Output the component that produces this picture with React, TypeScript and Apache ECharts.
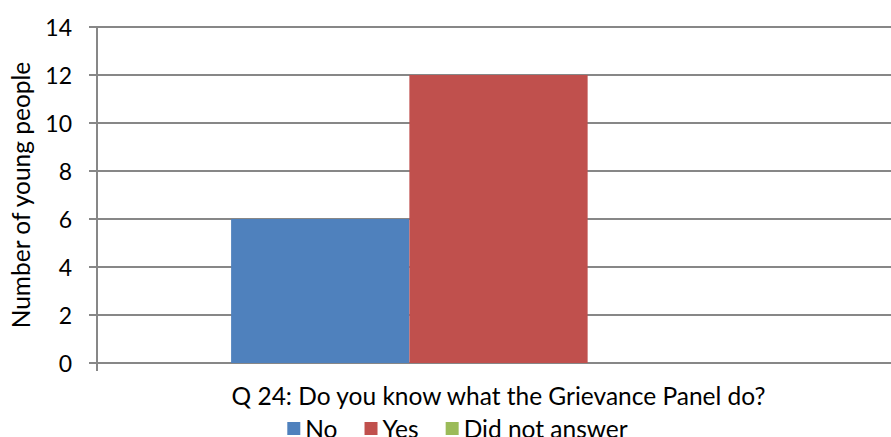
import React, { useEffect, useRef } from "react";
import * as echarts from "echarts";

// Survey question and answer counts
const categories: string[] = ["Q 24: Do you know what the Grievance Panel do?"];
const seriesNames: string[] = ["No", "Yes", "Did not answer"];
const noValues: number[] = [6];
const yesValues: number[] = [12];
const notAnsweredValues: number[] = [0];
const seriesColors: string[] = ["#4F81BD", "#C0504D", "#9BBB59"];
const yTicks = { min: 0, max: 14, interval: 2 };

const FONT = "Lato, 'Open Sans', sans-serif";
const FONT_SIZE = 24.5;
const AXIS_GREY = "#878787";

export default function App() {
  const ref = useRef<HTMLDivElement>(null);

  useEffect(() => {
    if (!ref.current) return;
    const chart = echarts.init(ref.current, undefined, { renderer: "svg" });
    const values = [noValues, yesValues, notAnsweredValues];

    chart.setOption({
      animation: false,
      backgroundColor: "#ffffff",
      textStyle: { fontFamily: FONT },
      grid: { left: 96, right: 15, top: 27, bottom: 74, containLabel: false },
      legend: {
        data: seriesNames,
        left: "center",
        top: 416,
        padding: 0,
        itemGap: 27,
        itemWidth: 13,
        itemHeight: 13,
        icon: "rect",
        textStyle: { fontFamily: FONT, fontSize: FONT_SIZE, color: "#000" },
      },
      xAxis: {
        type: "category",
        data: categories,
        boundaryGap: true,
        axisLine: { show: true, lineStyle: { color: AXIS_GREY, width: 2 } },
        axisTick: { show: true, length: 8, lineStyle: { color: AXIS_GREY, width: 2 } },
        axisLabel: { margin: 20, fontFamily: FONT, fontSize: FONT_SIZE, color: "#000" },
        splitLine: { show: false },
      },
      yAxis: {
        type: "value",
        min: yTicks.min,
        max: yTicks.max,
        interval: yTicks.interval,
        name: "Number of young people",
        nameLocation: "middle",
        nameRotate: 90,
        nameGap: 64,
        nameTextStyle: { fontFamily: FONT, fontSize: FONT_SIZE, color: "#000" },
        axisLine: { show: true, lineStyle: { color: AXIS_GREY, width: 2 } },
        axisTick: { show: true, length: 8, lineStyle: { color: AXIS_GREY, width: 2 } },
        axisLabel: { margin: 25, fontFamily: FONT, fontSize: 23, color: "#000" },
        splitLine: { show: true, lineStyle: { color: AXIS_GREY, width: 2 } },
      },
      series: seriesNames.map((name, i) => ({
        name,
        type: "bar",
        data: values[i],
        barGap: "0%",
        barCategoryGap: "33.4%",
        itemStyle: { color: seriesColors[i] },
      })),
    });

    return () => chart.dispose();
  }, []);

  return (
    <div
      style={{
        position: "fixed",
        left: 0,
        top: 0,
        width: 891,
        height: 437,
        overflow: "hidden",
        background: "#fff",
      }}
    >
      <div ref={ref} style={{ width: 915, height: 437 }} />
    </div>
  );
}
